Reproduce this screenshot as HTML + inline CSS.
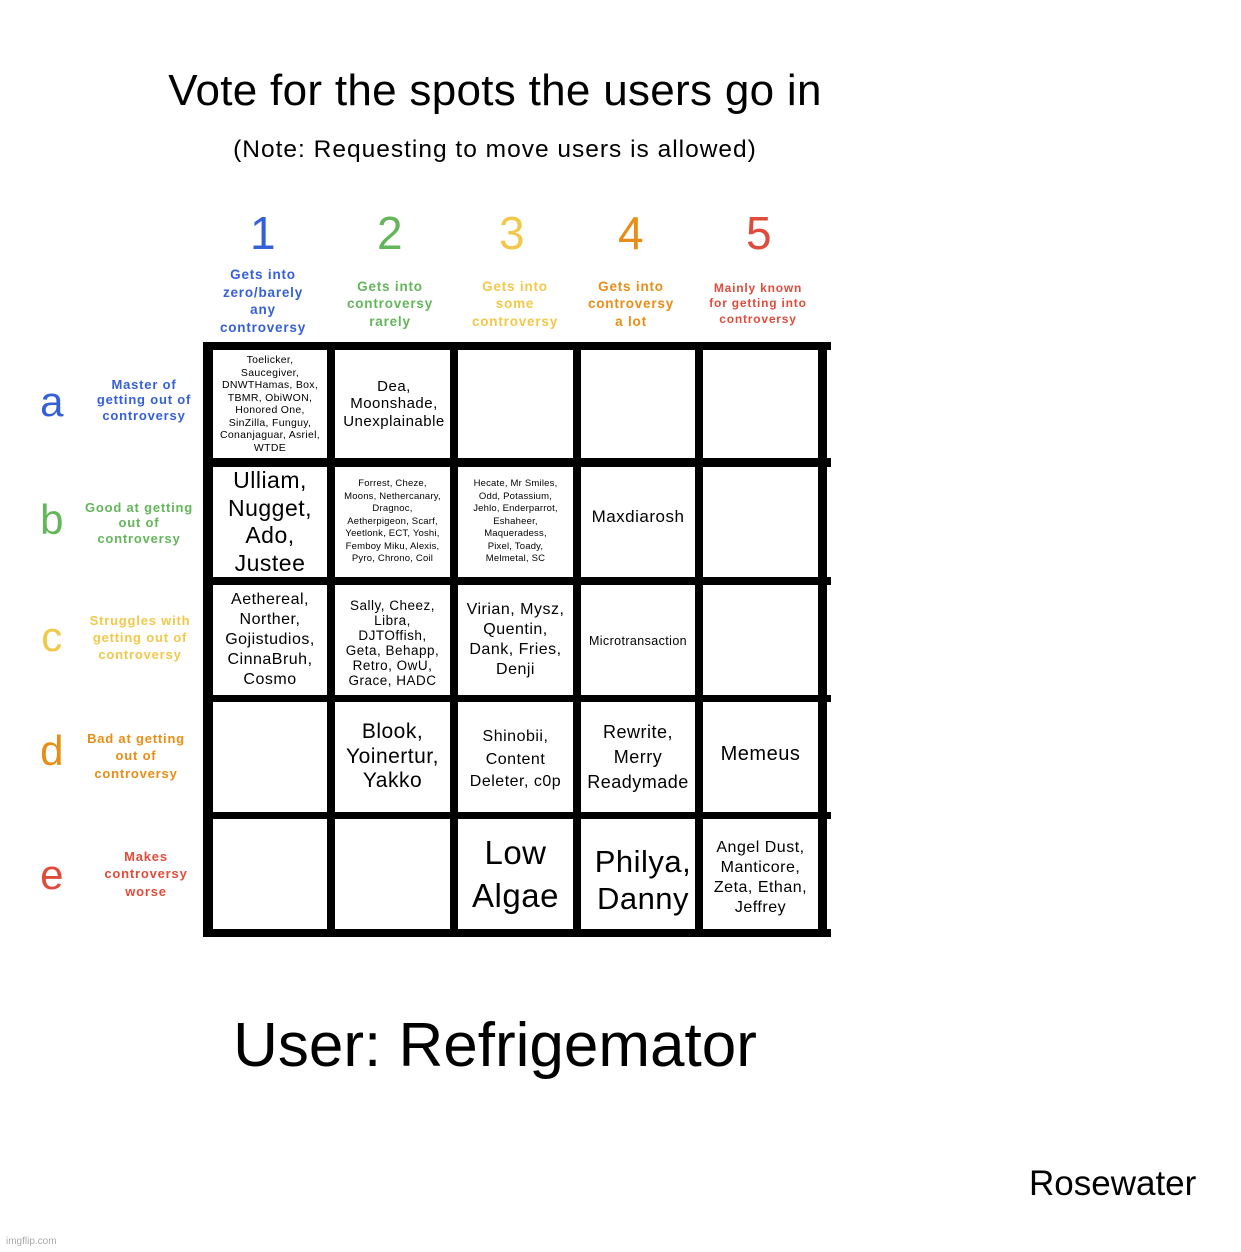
<!DOCTYPE html><html><head><meta charset="utf-8"><style>
body{margin:0;width:1241px;height:1252px;background:#fff;position:relative;overflow:hidden;font-family:"Liberation Sans",sans-serif;color:#000}
.a{position:absolute}
.c{position:absolute;display:flex;align-items:center;justify-content:center;text-align:center;letter-spacing:0.5px}
.l{position:absolute;background:#000}
.h{font-weight:bold;font-size:13.5px;line-height:17.5px;letter-spacing:0.8px}
.B{color:#3560d8}.G{color:#63b65a}.Y{color:#f2c84a}.O{color:#e88d15}.R{color:#df4c3b}
</style></head><body>
<div class="c" style="left:0;top:65px;width:990px;height:52px;font-size:44px;letter-spacing:0.3px">Vote for the spots the users go in</div>
<div class="c" style="left:0;top:135px;width:990px;height:30px;font-size:24.5px;letter-spacing:1px">(Note: Requesting to move users is allowed)</div>

<div class="c B" style="left:213px;top:205px;width:100px;height:55px;font-size:46px">1</div>
<div class="c G" style="left:340px;top:205px;width:100px;height:55px;font-size:46px">2</div>
<div class="c Y" style="left:462px;top:205px;width:100px;height:55px;font-size:46px">3</div>
<div class="c O" style="left:581px;top:205px;width:100px;height:55px;font-size:46px">4</div>
<div class="c R" style="left:709px;top:205px;width:100px;height:55px;font-size:46px">5</div>

<div class="c h B" style="left:203px;top:265px;width:120px;height:72px">Gets into<br>zero/barely<br>any<br>controversy</div>
<div class="c h G" style="left:330px;top:276px;width:120px;height:56px">Gets into<br>controversy<br>rarely</div>
<div class="c h Y" style="left:455px;top:276px;width:120px;height:56px">Gets into<br>some<br>controversy</div>
<div class="c h O" style="left:571px;top:276px;width:120px;height:56px">Gets into<br>controversy<br>a lot</div>
<div class="c h R" style="left:698px;top:280px;width:120px;height:48px;font-size:12px;line-height:15.5px">Mainly known<br>for getting into<br>controversy</div>

<div class="c B" style="left:27px;top:378px;width:50px;height:48px;font-size:42px">a</div>
<div class="c G" style="left:27px;top:496px;width:50px;height:48px;font-size:42px">b</div>
<div class="c Y" style="left:27px;top:613px;width:50px;height:48px;font-size:42px">c</div>
<div class="c O" style="left:27px;top:727px;width:50px;height:48px;font-size:42px">d</div>
<div class="c R" style="left:27px;top:851px;width:50px;height:48px;font-size:42px">e</div>

<div class="c h B" style="left:84px;top:374px;width:120px;height:52px;font-size:13px;line-height:15.5px">Master of<br>getting out of<br>controversy</div>
<div class="c h G" style="left:79px;top:497px;width:120px;height:52px;font-size:13px;line-height:15.5px">Good at getting<br>out of<br>controversy</div>
<div class="c h Y" style="left:80px;top:611px;width:120px;height:52px;font-size:13px;line-height:17px">Struggles with<br>getting out of<br>controversy</div>
<div class="c h O" style="left:76px;top:729px;width:120px;height:54px;font-size:13px;line-height:17.5px">Bad at getting<br>out of<br>controversy</div>
<div class="c h R" style="left:86px;top:847px;width:120px;height:54px;font-size:13px;line-height:17.5px">Makes<br>controversy<br>worse</div>

<div class="l" style="left:203px;top:342px;width:628px;height:8px"></div>
<div class="l" style="left:203px;top:458px;width:628px;height:9px"></div>
<div class="l" style="left:203px;top:577px;width:628px;height:8px"></div>
<div class="l" style="left:203px;top:695px;width:628px;height:7px"></div>
<div class="l" style="left:203px;top:812px;width:628px;height:7px"></div>
<div class="l" style="left:203px;top:929px;width:628px;height:8px"></div>
<div class="l" style="left:203px;top:342px;width:10px;height:595px"></div>
<div class="l" style="left:327px;top:342px;width:8px;height:595px"></div>
<div class="l" style="left:450px;top:342px;width:8px;height:595px"></div>
<div class="l" style="left:573px;top:342px;width:8px;height:595px"></div>
<div class="l" style="left:695px;top:342px;width:8px;height:595px"></div>
<div class="l" style="left:818px;top:342px;width:9px;height:595px"></div>

<div class="c" style="left:213px;top:350px;width:114px;height:108px;font-size:10.5px;line-height:12.5px;letter-spacing:0.3px">Toelicker,<br>Saucegiver,<br>DNWTHamas, Box,<br>TBMR, ObiWON,<br>Honored One,<br>SinZilla, Funguy,<br>Conanjaguar, Asriel,<br>WTDE</div>
<div class="c" style="left:335px;top:350px;width:118px;height:108px;font-size:15px;line-height:17.5px">Dea,<br>Moonshade,<br>Unexplainable</div>
<div class="c" style="left:213px;top:467px;width:114px;height:110px;font-size:23px;line-height:27.5px">Ulliam,<br>Nugget,<br>Ado,<br>Justee</div>
<div class="c" style="left:335px;top:467px;width:115px;height:110px;font-size:9.5px;line-height:12.5px;letter-spacing:0.2px">Forrest, Cheze,<br>Moons, Nethercanary,<br>Dragnoc,<br>Aetherpigeon, Scarf,<br>Yeetlonk, ECT, Yoshi,<br>Femboy Miku, Alexis,<br>Pyro, Chrono, Coil</div>
<div class="c" style="left:458px;top:467px;width:115px;height:110px;font-size:9.5px;line-height:12.5px;letter-spacing:0.2px">Hecate, Mr Smiles,<br>Odd, Potassium,<br>Jehlo, Enderparrot,<br>Eshaheer,<br>Maqueradess,<br>Pixel, Toady,<br>Melmetal, SC</div>
<div class="c" style="left:581px;top:467px;width:114px;height:100px;font-size:17px">Maxdiarosh</div>
<div class="c" style="left:213px;top:585px;width:114px;height:110px;font-size:16px;line-height:20px">Aethereal,<br>Norther,<br>Gojistudios,<br>CinnaBruh,<br>Cosmo</div>
<div class="c" style="left:335px;top:585px;width:115px;height:116px;font-size:13.5px;line-height:15px">Sally, Cheez,<br>Libra,<br>DJTOffish,<br>Geta, Behapp,<br>Retro, OwU,<br>Grace, HADC</div>
<div class="c" style="left:458px;top:585px;width:115px;height:110px;font-size:16px;line-height:20px">Virian, Mysz,<br>Quentin,<br>Dank, Fries,<br>Denji</div>
<div class="c" style="left:581px;top:585px;width:114px;height:112px;font-size:12.5px;letter-spacing:0.4px">Microtransaction</div>
<div class="c" style="left:335px;top:702px;width:115px;height:110px;font-size:21px;line-height:24.5px">Blook,<br>Yoinertur,<br>Yakko</div>
<div class="c" style="left:458px;top:702px;width:115px;height:116px;font-size:16px;line-height:22.5px">Shinobii,<br>Content<br>Deleter, c0p</div>
<div class="c" style="left:581px;top:702px;width:114px;height:110px;font-size:18px;line-height:25px">Rewrite,<br>Merry<br>Readymade</div>
<div class="c" style="left:703px;top:702px;width:115px;height:104px;font-size:20px">Memeus</div>
<div class="c" style="left:458px;top:819px;width:115px;height:110px;font-size:33px;line-height:43px">Low<br>Algae</div>
<div class="c" style="left:581px;top:819px;width:124px;height:122px;font-size:31px;line-height:37px">Philya,<br>Danny</div>
<div class="c" style="left:703px;top:819px;width:115px;height:118px;font-size:16px;line-height:20px">Angel Dust,<br>Manticore,<br>Zeta, Ethan,<br>Jeffrey</div>

<div class="c" style="left:0;top:1008px;width:990px;height:74px;font-size:62px;letter-spacing:0">User: Refrigemator</div>
<div class="a" style="left:1029px;top:1164px;font-size:35px">Rosewater</div>
<div class="a" style="left:6px;top:1236px;font-size:10px;color:#aaa">imgflip.com</div>
</body></html>
